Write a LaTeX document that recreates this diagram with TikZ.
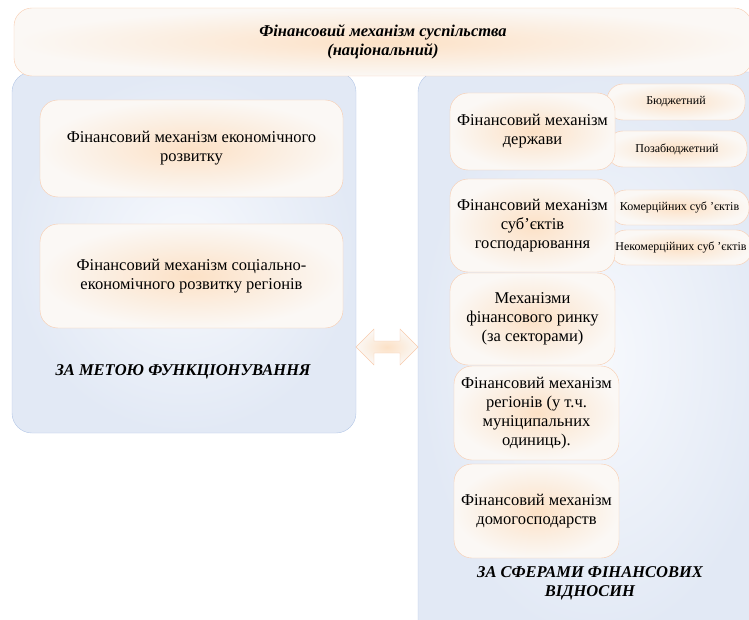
\documentclass[tikz,border=0pt]{standalone}
\usepackage{fontspec}
\setmainfont{Liberation Serif}

\definecolor{peachline}{HTML}{F8CBAD}
\definecolor{peachmid}{HTML}{FCE1C6}
\definecolor{peachedge}{HTML}{FBF8F5}
\definecolor{panelline}{HTML}{B4C7E7}
\definecolor{panelmid}{HTML}{F7F9FD}
\definecolor{paneledge}{HTML}{E2E9F5}

\tikzset{
  panel/.style={draw=panelline, rounded corners=20pt, inner color=panelmid, outer color=paneledge},
  peachbox/.style={draw=peachline, rounded corners=18pt, inner color=peachmid, outer color=peachedge,
    align=center, inner sep=2pt, font=\fontsize{16.5}{19}\selectfont},
  smallbox/.style={peachbox, rounded corners=16pt, font=\fontsize{12}{14}\selectfont},
  headtxt/.style={align=center, font=\bfseries\itshape\fontsize{16.5}{19}\selectfont}
}

\begin{document}
\begin{tikzpicture}[x=1pt,y=-1pt]
\useasboundingbox (0,0) rectangle (749,620);
\clip (0,0) rectangle (749,620);

  \path[panel] (12,72) rectangle (356,433);
  \path[panel] (418,72) rectangle (775,640);

 \node[peachbox, minimum width=738pt, minimum height=68pt, font=\bfseries\itshape\fontsize{16.5}{19}\selectfont] (society) at (383,42)
   {Фінансовий механізм суспільства\\(національний)};

 % za metoju
 \node[peachbox, minimum width=303pt, minimum height=97pt] (econ) at (191.5,148.5)
   {Фінансовий механізм економічного\\розвитку};
 \node[peachbox, minimum width=303pt, minimum height=104pt] (social) at (191.5,276)
   {Фінансовий механізм соціально-\\економічного розвитку регіонів};
 \node[headtxt] (goal) at (183,372) {ЗА МЕТОЮ ФУНКЦІОНУВАННЯ};

 \path[draw=peachline, inner color=peachmid, outer color=peachedge]
   (356,347) -- (374,329) -- (374,341) -- (400,341) -- (400,329) -- (418,347)
   -- (400,365) -- (400,353) -- (374,353) -- (374,365) -- cycle;

 % za sferamy
 \node[smallbox, minimum width=138pt, minimum height=36pt] (budget) at (676,102) {Бюджетний};
 \node[smallbox, minimum width=140pt, minimum height=36pt] (offbudget) at (677,149) {Позабюджетний};
 \node[peachbox, minimum width=165pt, minimum height=77pt] (state) at (532.5,131.5)
   {Фінансовий механізм\\держави};

 \node[smallbox, minimum width=139pt, minimum height=35pt] (commerce) at (679.5,207.5) {Комерційних суб ’єктів};
 \node[smallbox, minimum width=142pt, minimum height=35pt] (noncommerce) at (681,247.5) {Некомерційних суб ’єктів};
 \node[peachbox, minimum width=165pt, minimum height=93pt] (business) at (532.5,225.5)
   {Фінансовий механізм\\суб’єктів\\господарювання};

 \node[peachbox, minimum width=165pt, minimum height=92pt] (market) at (532.5,319)
   {Механізми\\фінансового ринку\\(за секторами)};
 \node[peachbox, minimum width=165pt, minimum height=94pt] (regions) at (536.5,413)
   {Фінансовий механізм\\регіонів (у т.ч.\\муніципальних\\одиниць).};
 \node[peachbox, minimum width=165pt, minimum height=94pt] (households) at (536.5,511)
   {Фінансовий механізм\\домогосподарств};
 \node[headtxt] (spheres) at (590,583) {ЗА СФЕРАМИ ФІНАНСОВИХ\\ВІДНОСИН};

\end{tikzpicture}
\end{document}
